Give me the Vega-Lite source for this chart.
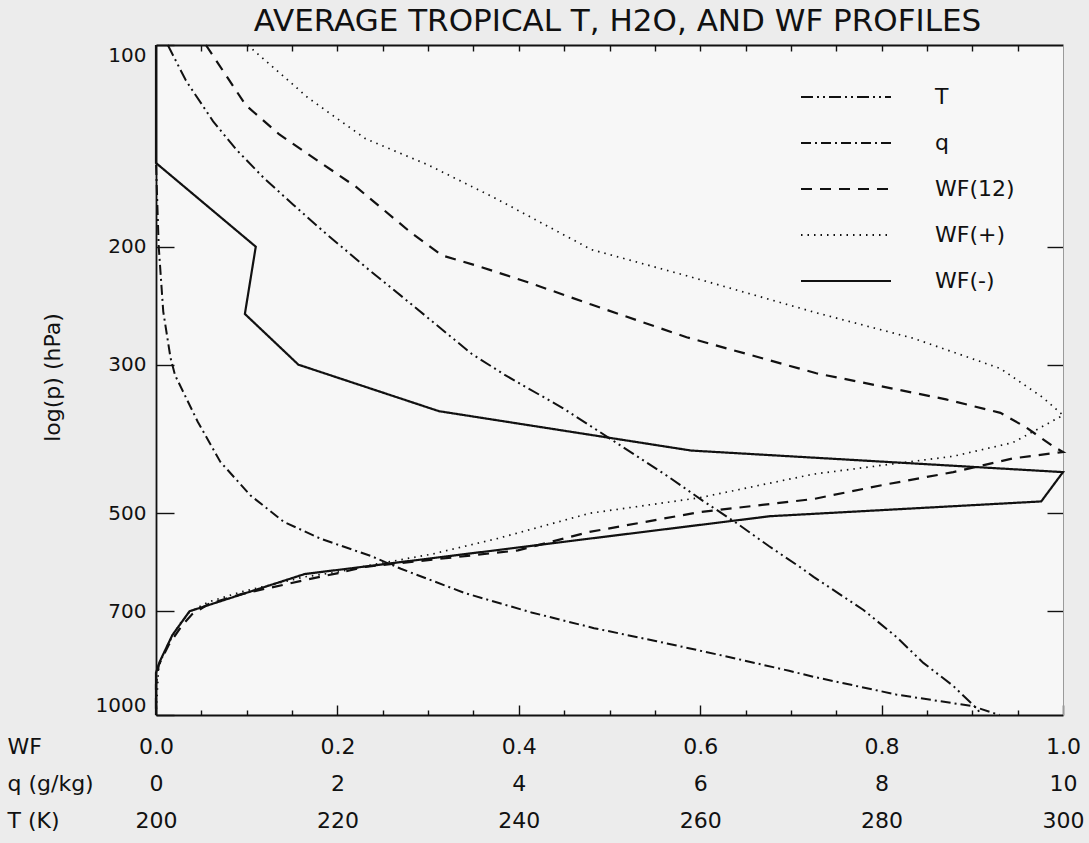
{
  "$schema": "https://vega.github.io/schema/vega-lite/v6.json",
  "width": 907,
  "height": 670,
  "autosize": {"type": "none"},
  "padding": {"left": 156, "top": 45, "right": 26, "bottom": 128},
  "background": "#ececec",
  "title": {"text": "AVERAGE TROPICAL T, H2O, AND WF PROFILES", "font": "DejaVu Sans", "fontSize": 31, "fontWeight": "normal", "color": "#111", "anchor": "middle", "baseline": "alphabetic", "offset": 12, "dx": 8, "dy": 33},
  "config": {
    "view": {"fill": "#f7f7f7", "stroke": null},
    "axis": {"grid": false, "labelFont": "DejaVu Sans", "titleFont": "DejaVu Sans", "labelColor": "#111", "titleColor": "#111", "tickColor": "#111", "domainColor": "#111", "domainWidth": 1.8, "tickWidth": 1.4, "titleFontWeight": "normal"},
    "legend": {"orient": "none", "legendX": 644, "legendY": 41, "title": null, "symbolType": "stroke", "symbolSize": 8100, "symbolStrokeWidth": 2, "symbolStrokeColor": "#111", "clipHeight": 22, "labelFont": "DejaVu Sans", "labelFontSize": 22, "labelColor": "#111", "labelOffset": 43, "rowPadding": 24, "padding": 0, "labelLimit": 300}
  },
  "resolve": {"scale": {"x": "independent"}, "axis": {"x": "independent", "y": "independent"}},
  "layer": [
    {
      "data": {"values": [
        {"s": "WF(-)", "p": 100, "v": 0}, {"s": "WF(-)", "p": 150, "v": 0}, {"s": "WF(-)", "p": 200, "v": 0.11}, {"s": "WF(-)", "p": 252, "v": 0.098}, {"s": "WF(-)", "p": 300, "v": 0.157}, {"s": "WF(-)", "p": 352, "v": 0.312}, {"s": "WF(-)", "p": 403, "v": 0.59}, {"s": "WF(-)", "p": 434, "v": 1.0}, {"s": "WF(-)", "p": 480, "v": 0.976}, {"s": "WF(-)", "p": 505, "v": 0.677}, {"s": "WF(-)", "p": 616, "v": 0.164}, {"s": "WF(-)", "p": 700, "v": 0.037}, {"s": "WF(-)", "p": 760, "v": 0.018}, {"s": "WF(-)", "p": 833, "v": 0.004}, {"s": "WF(-)", "p": 865, "v": 0}, {"s": "WF(-)", "p": 1000, "v": 0},
        {"s": "WF(12)", "p": 100, "v": 0.055}, {"s": "WF(12)", "p": 123, "v": 0.099}, {"s": "WF(12)", "p": 136, "v": 0.136}, {"s": "WF(12)", "p": 163, "v": 0.221}, {"s": "WF(12)", "p": 191, "v": 0.282}, {"s": "WF(12)", "p": 206, "v": 0.315}, {"s": "WF(12)", "p": 214, "v": 0.356}, {"s": "WF(12)", "p": 226, "v": 0.41}, {"s": "WF(12)", "p": 244, "v": 0.48}, {"s": "WF(12)", "p": 273, "v": 0.585}, {"s": "WF(12)", "p": 309, "v": 0.728}, {"s": "WF(12)", "p": 338, "v": 0.871}, {"s": "WF(12)", "p": 354, "v": 0.931}, {"s": "WF(12)", "p": 372, "v": 0.959}, {"s": "WF(12)", "p": 398, "v": 0.99}, {"s": "WF(12)", "p": 405, "v": 1.0}, {"s": "WF(12)", "p": 414, "v": 0.945}, {"s": "WF(12)", "p": 434, "v": 0.879}, {"s": "WF(12)", "p": 454, "v": 0.8}, {"s": "WF(12)", "p": 476, "v": 0.725}, {"s": "WF(12)", "p": 498, "v": 0.599}, {"s": "WF(12)", "p": 533, "v": 0.478}, {"s": "WF(12)", "p": 568, "v": 0.399}, {"s": "WF(12)", "p": 601, "v": 0.231}, {"s": "WF(12)", "p": 614, "v": 0.201}, {"s": "WF(12)", "p": 629, "v": 0.164}, {"s": "WF(12)", "p": 660, "v": 0.094}, {"s": "WF(12)", "p": 683, "v": 0.058}, {"s": "WF(12)", "p": 707, "v": 0.04}, {"s": "WF(12)", "p": 734, "v": 0.029}, {"s": "WF(12)", "p": 786, "v": 0.014}, {"s": "WF(12)", "p": 842, "v": 0.003}, {"s": "WF(12)", "p": 900, "v": 0}, {"s": "WF(12)", "p": 1000, "v": 0}
      ]},
      "mark": {"type": "line", "color": "#111", "strokeWidth": 2.2, "strokeCap": "butt"},
      "encoding": {
        "x": {"field": "v", "type": "quantitative", "scale": {"domain": [0, 1], "nice": false, "zero": false},
          "axis": {"orient": "bottom", "values": [0, 0.2, 0.4, 0.6, 0.8, 1], "tickSize": -10, "domain": true, "labelFlush": false, "labelOverlap": false, "labelFontSize": 22, "labelBaseline": "top", "labelLineHeight": 37, "labelPadding": 31,
            "labelExpr": "[format(datum.value, '.1f'), format(datum.value * 10, '.0f'), format(200 + datum.value * 100, '.0f')]",
            "title": ["WF", "q (g/kg)", "T (K)"], "titleFontSize": 22, "titleLineHeight": 37, "titleX": -149, "titleY": 21, "titleAlign": "left", "titleBaseline": "top", "titleAngle": 0}},
        "y": {"field": "p", "type": "quantitative", "scale": {"type": "log", "domain": [100, 1000], "reverse": true, "nice": false},
          "axis": {"orient": "left", "values": [100, 200, 300, 500, 700, 1000], "format": "d", "tickSize": -18, "domain": true, "labelFontSize": 20, "labelPadding": 28, "labelFlush": true, "labelFlushOffset": 0,
            "title": "log(p) (hPa)", "titleFontSize": 22, "titleX": -104, "titleY": 332, "titleAngle": 270, "titleAlign": "center", "titleBaseline": "middle"}},
        "order": {"value": null},
        "strokeDash": {"field": "s", "type": "nominal", "scale": {"domain": ["T", "q", "WF(12)", "WF(+)", "WF(-)"], "range": [[12, 4, 2, 4, 2, 4], [10, 4, 2, 4], [11, 8], [1.5, 5], [1, 0]]}}
      }
    },
    {
      "data": {"values": [
        {"s": "WF(+)", "p": 100, "v": 0.101}, {"s": "WF(+)", "p": 120, "v": 0.168}, {"s": "WF(+)", "p": 138, "v": 0.231}, {"s": "WF(+)", "p": 151, "v": 0.3}, {"s": "WF(+)", "p": 169, "v": 0.373}, {"s": "WF(+)", "p": 202, "v": 0.48}, {"s": "WF(+)", "p": 221, "v": 0.585}, {"s": "WF(+)", "p": 251, "v": 0.728}, {"s": "WF(+)", "p": 274, "v": 0.835}, {"s": "WF(+)", "p": 304, "v": 0.931}, {"s": "WF(+)", "p": 336, "v": 0.978}, {"s": "WF(+)", "p": 357, "v": 1.0}, {"s": "WF(+)", "p": 392, "v": 0.945}, {"s": "WF(+)", "p": 411, "v": 0.879}, {"s": "WF(+)", "p": 424, "v": 0.8}, {"s": "WF(+)", "p": 437, "v": 0.725}, {"s": "WF(+)", "p": 474, "v": 0.599}, {"s": "WF(+)", "p": 500, "v": 0.478}, {"s": "WF(+)", "p": 545, "v": 0.377}, {"s": "WF(+)", "p": 575, "v": 0.305}, {"s": "WF(+)", "p": 599, "v": 0.232}, {"s": "WF(+)", "p": 612, "v": 0.2}, {"s": "WF(+)", "p": 622, "v": 0.164}, {"s": "WF(+)", "p": 655, "v": 0.094}, {"s": "WF(+)", "p": 678, "v": 0.058}, {"s": "WF(+)", "p": 702, "v": 0.037}, {"s": "WF(+)", "p": 735, "v": 0.025}, {"s": "WF(+)", "p": 790, "v": 0.012}, {"s": "WF(+)", "p": 845, "v": 0.003}, {"s": "WF(+)", "p": 1000, "v": 0}
      ]},
      "mark": {"type": "line", "color": "#111", "strokeWidth": 1.7, "strokeCap": "butt"},
      "encoding": {
        "x": {"field": "v", "type": "quantitative", "scale": {"domain": [0, 1], "nice": false, "zero": false}, "axis": null},
        "y": {"field": "p", "type": "quantitative", "axis": null},
        "order": {"value": null},
        "strokeDash": {"field": "s", "type": "nominal"}
      }
    },
    {
      "data": {"values": [
        {"s": "T", "p": 100, "t": 201.3}, {"s": "T", "p": 113, "t": 203.3}, {"s": "T", "p": 130, "t": 206.3}, {"s": "T", "p": 143, "t": 208.8}, {"s": "T", "p": 158, "t": 211.9}, {"s": "T", "p": 173, "t": 215.1}, {"s": "T", "p": 190, "t": 218.5}, {"s": "T", "p": 215, "t": 223.2}, {"s": "T", "p": 244, "t": 228.2}, {"s": "T", "p": 289, "t": 234.8}, {"s": "T", "p": 311, "t": 238.5}, {"s": "T", "p": 348, "t": 244.8}, {"s": "T", "p": 374, "t": 248.4}, {"s": "T", "p": 441, "t": 256.5}, {"s": "T", "p": 479, "t": 260.3}, {"s": "T", "p": 517, "t": 264.0}, {"s": "T", "p": 560, "t": 267.6}, {"s": "T", "p": 604, "t": 271.2}, {"s": "T", "p": 622, "t": 272.5}, {"s": "T", "p": 697, "t": 278.0}, {"s": "T", "p": 764, "t": 281.6}, {"s": "T", "p": 836, "t": 284.6}, {"s": "T", "p": 905, "t": 287.9}, {"s": "T", "p": 978, "t": 290.5}, {"s": "T", "p": 1000, "t": 291.0}
      ]},
      "mark": {"type": "line", "color": "#111", "strokeWidth": 2, "strokeCap": "butt"},
      "encoding": {
        "x": {"field": "t", "type": "quantitative", "scale": {"domain": [200, 300], "nice": false, "zero": false},
          "axis": {"orient": "top", "values": [205, 210, 215, 220, 225, 230, 235, 240, 245, 250, 255, 260, 265, 270, 275, 280, 285, 290, 295], "tickSize": -6, "labels": false, "title": null, "domain": true}},
        "y": {"field": "p", "type": "quantitative",
          "axis": {"orient": "right", "values": [200, 300, 500, 700], "tickSize": -16, "labels": false, "title": null, "domain": true, "domainColor": "#9a9a9a", "domainWidth": 1}},
        "order": {"value": null},
        "strokeDash": {"field": "s", "type": "nominal"}
      }
    },
    {
      "data": {"values": [
        {"s": "q", "p": 100, "q": 0}, {"s": "q", "p": 150, "q": 0}, {"s": "q", "p": 200, "q": 0.03}, {"s": "q", "p": 250, "q": 0.08}, {"s": "q", "p": 293, "q": 0.16}, {"s": "q", "p": 311, "q": 0.21}, {"s": "q", "p": 365, "q": 0.46}, {"s": "q", "p": 419, "q": 0.71}, {"s": "q", "p": 470, "q": 1.04}, {"s": "q", "p": 515, "q": 1.41}, {"s": "q", "p": 546, "q": 1.82}, {"s": "q", "p": 579, "q": 2.37}, {"s": "q", "p": 605, "q": 2.7}, {"s": "q", "p": 658, "q": 3.41}, {"s": "q", "p": 703, "q": 4.14}, {"s": "q", "p": 742, "q": 4.83}, {"s": "q", "p": 776, "q": 5.52}, {"s": "q", "p": 815, "q": 6.24}, {"s": "q", "p": 859, "q": 6.98}, {"s": "q", "p": 877, "q": 7.25}, {"s": "q", "p": 932, "q": 8.16}, {"s": "q", "p": 970, "q": 9.0}, {"s": "q", "p": 1000, "q": 9.3}
      ]},
      "mark": {"type": "line", "color": "#111", "strokeWidth": 2, "strokeCap": "butt"},
      "encoding": {
        "x": {"field": "q", "type": "quantitative", "scale": {"domain": [0, 10], "nice": false, "zero": false},
          "axis": {"orient": "bottom", "values": [0.5, 1, 1.5, 2.5, 3, 3.5, 4.5, 5, 5.5, 6.5, 7, 7.5, 8.5, 9, 9.5], "tickSize": -5, "labels": false, "title": null, "domain": false}},
        "y": {"field": "p", "type": "quantitative", "axis": null},
        "order": {"value": null},
        "strokeDash": {"field": "s", "type": "nominal"}
      }
    }
  ]
}
